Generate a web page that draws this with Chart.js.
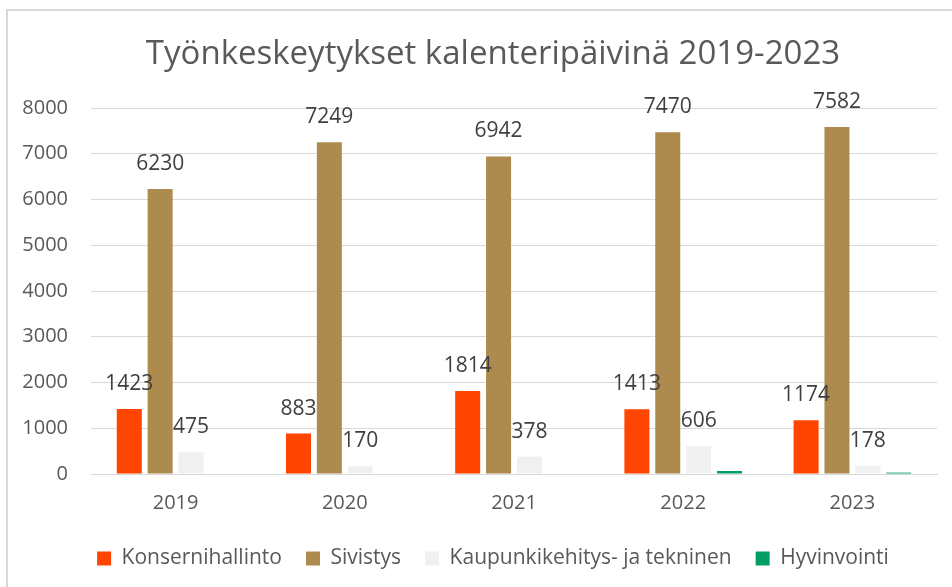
<!DOCTYPE html>
<html lang="fi">
<head>
  <meta charset="UTF-8">
  <title>Työnkeskeytykset kalenteripäivinä 2019-2023</title>
  <script src="https://cdn.jsdelivr.net/npm/chart.js"></script>
  <style>
    html, body { margin: 0; padding: 0; background: #fff; overflow: hidden; }
    #frame {
      position: absolute; left: 6px; top: 9px;
      width: 980px; height: 600px;
      border: 2px solid #d9d9d9; background: #fff;
    }
    #chart { position: absolute; left: 0; top: 0; }
  </style>
</head>
<body>
<div id="frame">
  <canvas id="chart" width="970" height="576"></canvas>
</div>

<script>
// Chart data
const years = ['2019', '2020', '2021', '2022', '2023'];
const konsernihallinto = [1423, 883, 1814, 1413, 1174];
const sivistys = [6230, 7249, 6942, 7470, 7582];
const kaupunkikehitys = [475, 170, 378, 606, 178];
const hyvinvointi = [0, 0, 0, 65, 30];
const yTicks = [0, 1000, 2000, 3000, 4000, 5000, 6000, 7000, 8000];

const FONT = "'Open Sans', 'Noto Sans', sans-serif";

// Draws the value labels above bars (first three series only)
const valueLabels = {
  id: 'valueLabels',
  afterDatasetsDraw(chart) {
    const ctx = chart.ctx;
    ctx.save();
    ctx.font = '21px ' + FONT;
    ctx.fillStyle = '#404040';
    ctx.textAlign = 'center';
    ctx.textBaseline = 'middle';
    [0, 1, 2].forEach(i => {
      const meta = chart.getDatasetMeta(i);
      meta.data.forEach((bar, j) => {
        ctx.fillText(String(chart.data.datasets[i].data[j]), bar.x, bar.y - 25);
      });
    });
    ctx.restore();
  }
};

new Chart(document.getElementById('chart'), {
  type: 'bar',
  data: {
    labels: years,
    datasets: [
      { label: 'Konsernihallinto', data: konsernihallinto, backgroundColor: '#ff4500' },
      { label: 'Sivistys', data: sivistys, backgroundColor: '#ad8b4e' },
      { label: 'Kaupunkikehitys- ja tekninen', data: kaupunkikehitys, backgroundColor: '#f0f0f0' },
      { label: 'Hyvinvointi', data: hyvinvointi, backgroundColor: '#009e63' }
    ]
  },
  options: {
    responsive: false,
    animation: false,
    categoryPercentage: 0.73,
    barPercentage: 0.81,
    layout: { padding: { left: 0, right: 0, top: 0, bottom: 8 } },
    scales: {
      x: {
        grid: { display: false, drawTicks: false },
        border: { display: true, color: '#d9d9d9' },
        ticks: { color: '#595959', font: { family: FONT, size: 20 }, padding: 17 },
        afterFit(scale) { scale.height = 50; }
      },
      y: {
        min: 0,
        max: 8000,
        afterBuildTicks(scale) { scale.ticks = yTicks.map(v => ({ value: v })); },
        grid: { color: '#d9d9d9', drawTicks: false },
        border: { display: false },
        ticks: {
          color: '#595959',
          font: { family: FONT, size: 20 },
          padding: 23,
          callback: v => String(v)
        },
        afterFit(scale) { scale.width = 83; }
      },
      // empty right-hand margin so title and legend stay centred on the frame
      yRight: {
        position: 'right',
        grid: { display: false, drawTicks: false },
        border: { display: false },
        ticks: { display: false },
        afterFit(scale) { scale.width = 41; }
      }
    },
    plugins: {
      title: {
        display: true,
        text: 'Työnkeskeytykset kalenteripäivinä 2019-2023',
        color: '#595959',
        font: { family: FONT, size: 33, weight: 'normal' },
        padding: { top: 24, bottom: 33.4 }
      },
      legend: {
        position: 'bottom',
        labels: {
          color: '#595959',
          font: { family: FONT, size: 21 },
          boxWidth: 14,
          boxHeight: 14,
          padding: 24
        }
      },
      tooltip: { enabled: false }
    }
  },
  plugins: [valueLabels]
});
</script>
</body>
</html>
